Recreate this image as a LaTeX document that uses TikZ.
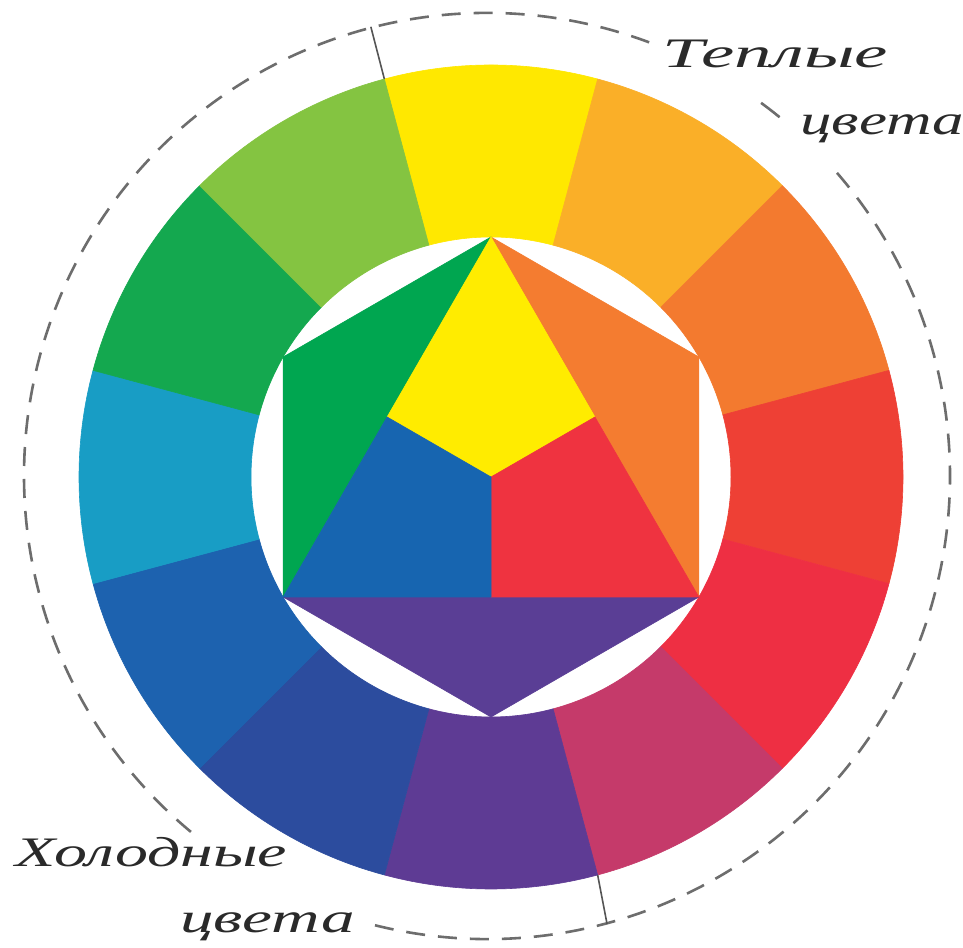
\documentclass[tikz,border=0pt]{standalone}
\usepackage{fontspec}
\newfontfamily\handfont{Liberation Serif}
\usetikzlibrary{calc}
\definecolor{cY}{HTML}{FFE800}
\definecolor{cYO}{HTML}{FAAF28}
\definecolor{cO}{HTML}{F37A2F}
\definecolor{cRO}{HTML}{EE4035}
\definecolor{cR}{HTML}{EE2F43}
\definecolor{cRV}{HTML}{C53A6A}
\definecolor{cV}{HTML}{5E3B94}
\definecolor{cBV}{HTML}{2C4C9E}
\definecolor{cB}{HTML}{1D62AF}
\definecolor{cCB}{HTML}{189DC5}
\definecolor{cG}{HTML}{14A84F}
\definecolor{cYG}{HTML}{84C441}
\definecolor{iY}{HTML}{FFEC00}
\definecolor{iO}{HTML}{F47C30}
\definecolor{iR}{HTML}{EF3340}
\definecolor{iB}{HTML}{1765B0}
\definecolor{iG}{HTML}{00A650}
\definecolor{iV}{HTML}{5A3E95}
\definecolor{dashcol}{HTML}{6D6D6D}
\definecolor{tickcol}{HTML}{555555}
\definecolor{textcol}{HTML}{2A2A2A}
\begin{document}
\begin{tikzpicture}[x=1pt,y=1pt,
  hand/.style={font=\handfont\itshape\fontsize{42}{48}\selectfont, text=textcol, inner sep=0pt},
  dashring/.style={draw=dashcol, line width=2.6pt, dash pattern=on 19pt off 13pt},
  tickline/.style={draw=tickcol, line width=1.6pt},
  patch/.style={fill=#1, draw=#1, line width=0.6pt, line join=round}]
\useasboundingbox (0,0) rectangle (963,947);
\fill[white] (0,0) rectangle (963,947);
\coordinate (C) at (491,470);
\coordinate (D) at (487,471);
% outer ring of 12 sectors
\foreach \a/\c in {90/cY,60/cYO,30/cO,0/cRO,-30/cR,-60/cRV,-90/cV,-120/cBV,-150/cB,180/cCB,150/cG,120/cYG}
  \path[patch=\c] ($(C)+(\a-15:412pt)$) arc[start angle=\a-15, end angle=\a+15, radius=412pt]
     -- ($(C)+(\a+15:240pt)$) arc[start angle=\a+15, end angle=\a-15, radius=240pt] -- cycle;
% inner hexagon
\coordinate (T) at ($(C)+(90:240pt)$);
\coordinate (UR) at ($(C)+(30:240pt)$);
\coordinate (LR) at ($(C)+(-30:240pt)$);
\coordinate (B) at ($(C)+(-90:240pt)$);
\coordinate (LL) at ($(C)+(-150:240pt)$);
\coordinate (UL) at ($(C)+(150:240pt)$);
\coordinate (M1) at ($(T)!0.5!(LR)$);
\coordinate (M2) at ($(LR)!0.5!(LL)$);
\coordinate (M3) at ($(LL)!0.5!(T)$);
\path[patch=iO] (T) -- (UR) -- (LR) -- cycle;
\path[patch=iG] (T) -- (UL) -- (LL) -- cycle;
\path[patch=iV] (LL) -- (LR) -- (B) -- cycle;
\path[patch=iY] (T) -- (M1) -- (C) -- (M3) -- cycle;
\path[patch=iR] (M1) -- (LR) -- (M2) -- (C) -- cycle;
\path[patch=iB] (M3) -- (C) -- (M2) -- (LL) -- cycle;
% dashed ring with gaps for the labels
\draw[dashring] ($(D)+(69.5:463pt)$) arc[start angle=69.5, end angle=230.7, radius=463pt];
\draw[dashring] ($(D)+(256:463pt)$) arc[start angle=256, end angle=401, radius=463pt];
\draw[draw=dashcol, line width=2.6pt] ($(D)+(50.8:463pt)$) arc[start angle=50.8, end angle=53.7, radius=463pt];
% warm / cold dividers
\coordinate (t1a) at ($(C)+(105:412pt)$);
\coordinate (t1b) at ($(D)+(104.5:464pt)$);
\coordinate (t2a) at ($(C)+(-75:412pt)$);
\coordinate (t2b) at ($(D)+(-75:464pt)$);
\draw[tickline] (t1a) -- (t1b);
\draw[tickline] (t2a) -- (t2b);
% labels
\node[hand, anchor=base west] (warm1) at (662,879) {\scalebox{1.78}[1]{Теплые}};
\node[hand, anchor=base west] (warm2) at (800,812) {\scalebox{1.5}[1]{цвета}};
\node[hand, anchor=base west] (cold1) at (15,80) {\scalebox{1.57}[1]{Холодные}};
\node[hand, anchor=base west] (cold2) at (180,15) {\scalebox{1.6}[1]{цвета}};
\end{tikzpicture}
\end{document}
